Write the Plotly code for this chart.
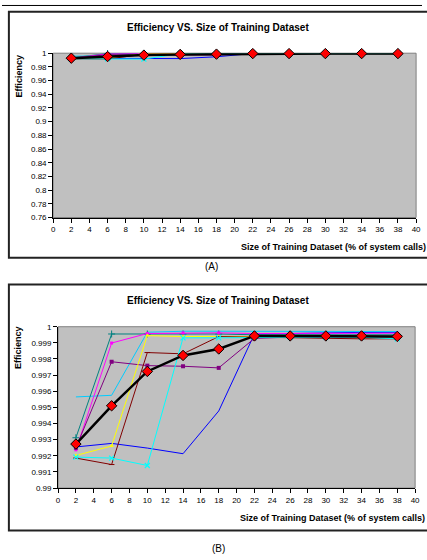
import plotly.graph_objects as go

W, H = 427, 560

# ---- data ----
x_pct = [2, 6, 10, 14, 18, 22, 26, 30, 34, 38]

s_teal = [0.99312, 0.99955, 0.99955, 0.99955, 0.99955, 0.99950, 0.99950, 0.99950, 0.99950, 0.99950]
s_magenta = [0.99237, 0.99899, 0.99958, 0.99962, 0.99962, 0.99958, 0.99958, 0.99960, 0.99960, 0.99960]
s_purple = [0.99250, 0.99783, 0.99759, 0.99755, 0.99745, 0.99928, 0.99935, 0.99935, 0.99935, 0.99935]
s_skyblue = [0.99565, 0.99575, 0.99966, 0.99972, 0.99972, 0.99972, 0.99972, 0.99970, 0.99970, 0.99970]
s_yellow = [0.99202, 0.99261, 0.99945, 0.99939, 0.99940, 0.99940, 0.99938, 0.99938, 0.99938, 0.99938]
s_maroon = [0.99186, 0.99146, 0.99840, 0.99832, 0.99939, 0.99935, 0.99930, 0.99928, 0.99925, 0.99925]
s_cyan = [0.99192, 0.99186, 0.99140, 0.99931, 0.99931, 0.99935, 0.99935, 0.99935, 0.99935, 0.99925]
s_blue = [0.99255, 0.99277, 0.99248, 0.99213, 0.99478, 0.99955, 0.99958, 0.99962, 0.99965, 0.99965]
s_average = [0.99273, 0.99510, 0.99723, 0.99822, 0.99862, 0.99943, 0.99943, 0.99943, 0.99943, 0.99940]

chart_title = "Efficiency VS. Size of Training Dataset"
x_title = "Size of Training Dataset (% of system calls)"
y_title = "Efficiency"
panel_labels = ["(A)", "(B)"]

FONT = "Liberation Sans, Arial, sans-serif"

series = [
    (s_blue, "#0000FF", dict(size=1, opacity=0)),
    (s_skyblue, "#00CCFF", dict(size=1, opacity=0)),
    (s_teal, "#008080", dict(symbol="cross-thin", size=5, line=dict(width=1, color="#008080"))),
    (s_magenta, "#FF00FF", dict(symbol="square", size=3, color="#FF00FF")),
    (s_purple, "#800080", dict(symbol="square", size=4, color="#800080")),
    (s_yellow, "#FFFF00", dict(symbol="triangle-up", size=4, color="#FFFF00")),
    (s_maroon, "#800000", dict(symbol="line-ew", size=4, line=dict(width=1, color="#800000"))),
    (s_cyan, "#00FFFF", dict(symbol="x-thin", size=5, line=dict(width=1.2, color="#00FFFF"))),
]

fig = go.Figure()
for xa, ya in [("x", "y"), ("x2", "y2")]:
    for vals, col, mk in series:
        fig.add_trace(go.Scatter(
            x=x_pct, y=vals, xaxis=xa, yaxis=ya, mode="lines+markers",
            line=dict(color=col, width=1), marker=mk, cliponaxis=False,
            showlegend=False, hoverinfo="skip"))
    fig.add_trace(go.Scatter(
        x=x_pct, y=s_average, xaxis=xa, yaxis=ya, mode="lines+markers",
        line=dict(color="#000000", width=2.5),
        marker=dict(symbol="diamond", size=8, color="#FF0000", line=dict(color="#000000", width=1)),
        cliponaxis=False, showlegend=False, hoverinfo="skip"))

def px_x(v):
    return v / W

def px_y(v):
    return 1 - v / H

axis_common = dict(
    showline=True, linecolor="#000000", linewidth=1, ticks="outside", ticklen=4,
    tickcolor="#000000", tickwidth=1, showgrid=False, zeroline=False,
    tickfont=dict(family=FONT, size=8, color="#000000"),
)

fig.update_layout(
    width=W, height=H, margin=dict(l=0, r=0, t=0, b=0),
    paper_bgcolor="white", plot_bgcolor="#C0C0C0",
    font=dict(family=FONT, color="#000000"),
    xaxis=dict(domain=[px_x(52), px_x(421)], range=[0, 40], dtick=2, anchor="y", **axis_common),
    yaxis=dict(domain=[px_y(217), px_y(50)], range=[0.76, 1], dtick=0.02, anchor="x", **axis_common),
    xaxis2=dict(domain=[px_x(57), px_x(420)], range=[0, 40], dtick=2, anchor="y2", **axis_common),
    yaxis2=dict(domain=[px_y(492), px_y(328)], range=[0.99, 1], dtick=0.001, anchor="x2", **axis_common),
)

shapes = []
# page top rule
shapes.append(dict(type="line", xref="paper", yref="paper", x0=0, x1=1, y0=px_y(1.5), y1=px_y(1.5),
                   line=dict(color="#000000", width=1)))
# chart borders
for top, bot in [(8, 258), (285, 535)]:
    shapes.append(dict(type="rect", xref="paper", yref="paper", x0=px_x(7), x1=1.05,
                       y0=px_y(bot), y1=px_y(top), line=dict(color="#222222", width=2)))
# plot-area gray frames
for xr, yr in [("x domain", "y domain"), ("x2 domain", "y2 domain")]:
    shapes.append(dict(type="rect", xref=xr, yref=yr, x0=0, x1=1, y0=0, y1=1,
                       line=dict(color="#808080", width=1), layer="below"))
fig.update_layout(shapes=shapes)

ann = []
for ty, yty, xtx, xty, lx, ly, lab in [
    (24, 73, 241, 247, 213, 267, panel_labels[0]),
    (301, 349, 240, 522, 220, 553, panel_labels[1]),
]:
    ann.append(dict(text="<b>" + chart_title + "</b>", x=px_x(220), y=px_y(ty), xref="paper", yref="paper",
                    showarrow=False, xanchor="center", yanchor="middle", font=dict(size=10, family=FONT)))
    ann.append(dict(text="<b>" + y_title + "</b>", x=px_x(17), y=px_y(yty), xref="paper", yref="paper",
                    showarrow=False, textangle=-90, xanchor="center", yanchor="middle",
                    font=dict(size=9, family=FONT)))
    ann.append(dict(text="<b>" + x_title + "</b>", x=px_x(xtx), y=px_y(xty), xref="paper", yref="paper",
                    showarrow=False, xanchor="left", yanchor="middle", font=dict(size=9, family=FONT)))
    ann.append(dict(text=lab, x=px_x(lx), y=px_y(ly), xref="paper", yref="paper",
                    showarrow=False, xanchor="center", yanchor="middle", font=dict(size=10, family=FONT)))
fig.update_layout(annotations=ann)

fig.write_html("out.html", config={"displayModeBar": False},
               post_script="document.body.style.margin='0';document.body.style.overflow='hidden';")
